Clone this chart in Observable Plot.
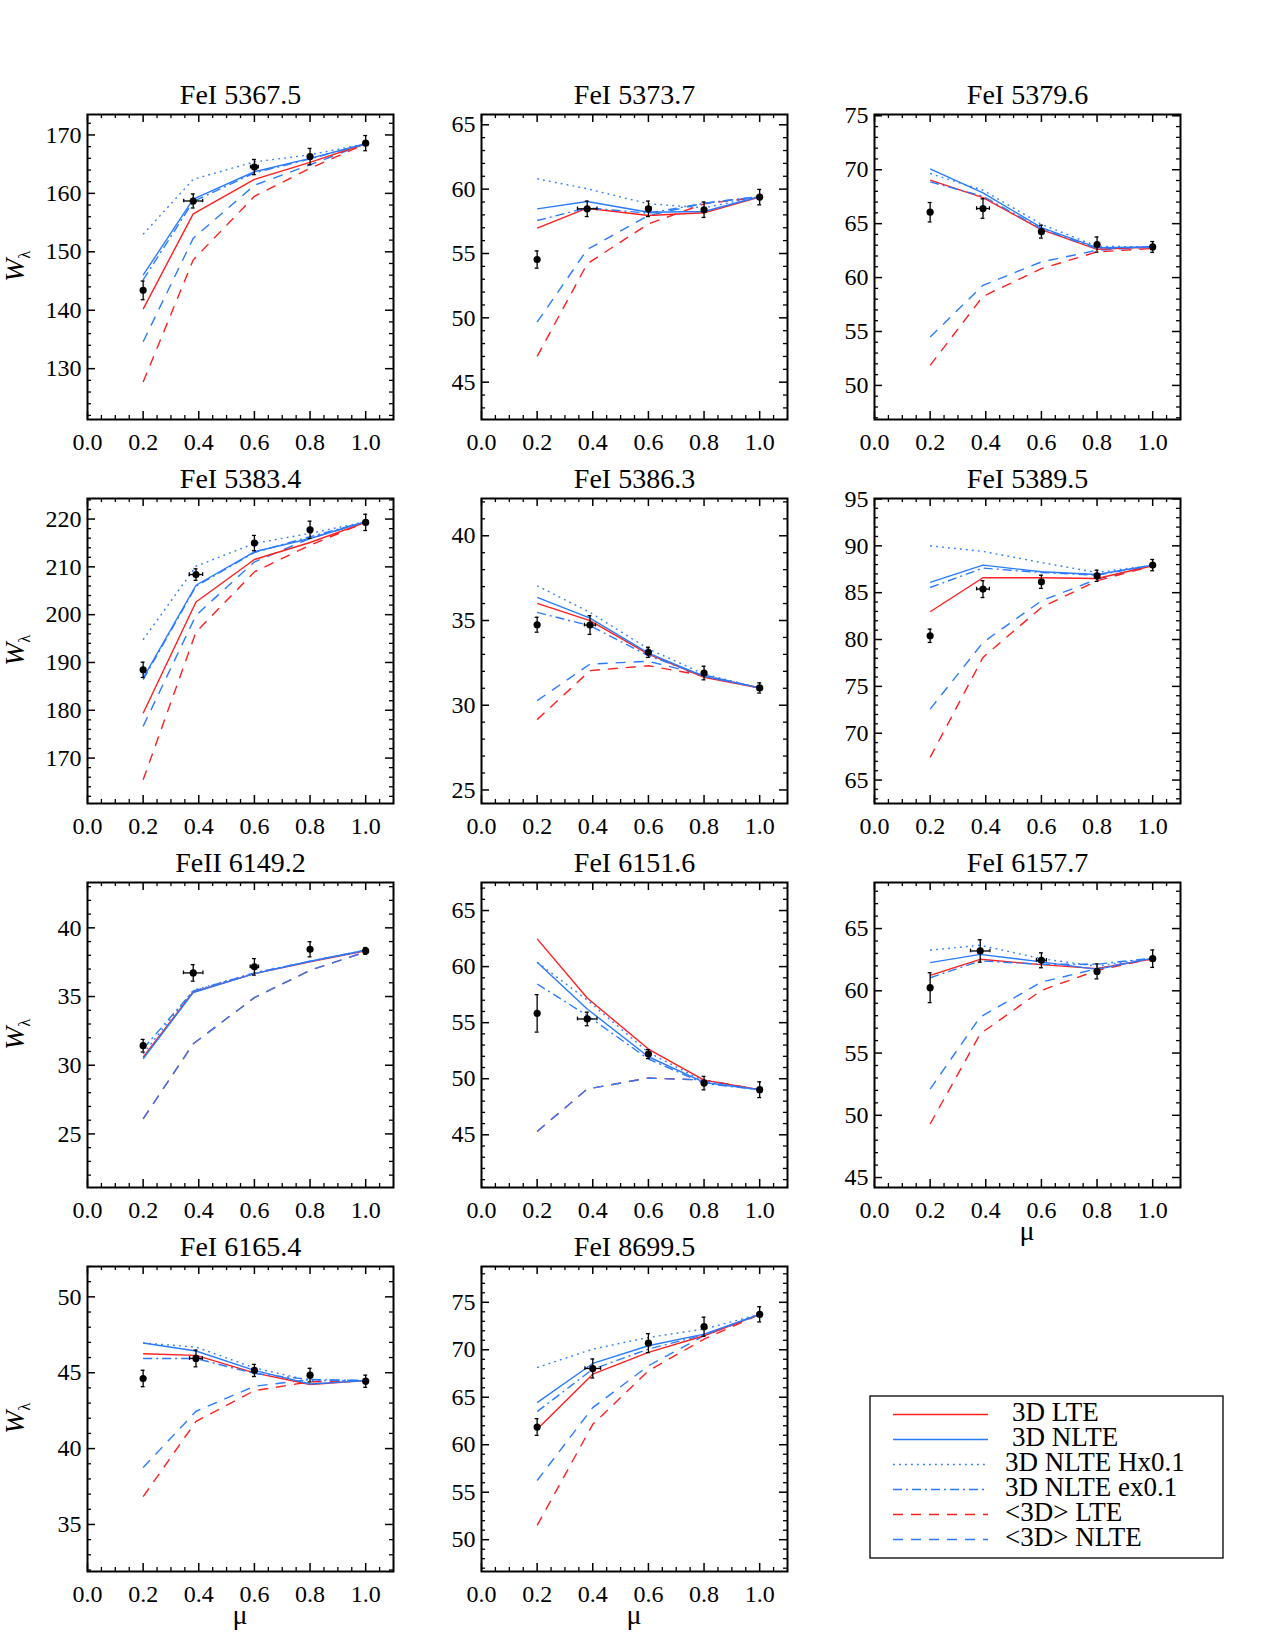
<!DOCTYPE html>
<html><head><meta charset="utf-8">
<script src="https://cdn.jsdelivr.net/npm/d3@7"></script>
<script src="https://cdn.jsdelivr.net/npm/@observablehq/plot@0.6"></script>
<style>
body{margin:0;background:#fff;}
#page{position:relative;width:1275px;height:1650px;background:#fff;font-family:"Liberation Serif",serif;overflow:hidden;}
#page svg{position:absolute;overflow:visible;background:transparent;}
</style></head><body><div id="page"></div>
<script>
// ---------- DATA ----------
const lineNames = ["FeI 5367.5","FeI 5373.7","FeI 5379.6","FeI 5383.4","FeI 5386.3","FeI 5389.5",
                   "FeII 6149.2","FeI 6151.6","FeI 6157.7","FeI 6165.4","FeI 8699.5"];
const muMid = [0.38,0.38,0.39,0.39,0.39,0.39,0.38,0.38,0.38,0.39,0.40];
const muOther = [0.2, 0.6, 0.8, 1.0];

const obsW = [
  [143.4,158.7,164.5,166.3,168.6],
  [54.53,58.47,58.47,58.40,59.38],
  [66.06,66.40,64.26,63.06,62.84],
  [188.46,208.39,214.97,217.76,219.3],
  [34.75,34.73,33.12,31.90,31.02],
  [80.40,85.38,86.16,86.80,87.94],
  [31.42,36.72,37.16,38.44,38.32],
  [55.83,55.33,52.20,49.61,49.02],
  [60.25,63.20,62.45,61.56,62.58],
  [44.62,45.94,45.15,44.84,44.44],
  [61.87,68.03,70.70,72.43,73.73]
];
const obsErr = [
  [1.6,1.2,1.3,1.4,1.3],
  [0.67,0.6,0.6,0.6,0.6],
  [0.9,0.9,0.6,0.7,0.5],
  [1.6,1.2,1.6,1.8,1.7],
  [0.44,0.55,0.3,0.4,0.3],
  [0.71,0.9,0.7,0.6,0.6],
  [0.46,0.6,0.6,0.55,0.25],
  [1.67,0.6,0.4,0.6,0.7],
  [1.2,0.9,0.6,0.6,0.7],
  [0.54,0.55,0.4,0.45,0.4],
  [0.88,1.0,1.0,1.0,0.8]
];
const obsMuErr = [
  [0,0.034,0.014,0,0],
  [0,0.035,0.010,0,0],
  [0,0.023,0,0,0],
  [0,0.024,0,0,0],
  [0,0.020,0,0,0],
  [0,0.023,0,0,0],
  [0,0.035,0.015,0,0],
  [0,0.035,0,0,0],
  [0,0.035,0.018,0,0],
  [0,0.023,0,0,0],
  [0,0.028,0,0,0]
];
const lte3D = [
  [140.2,156.5,162.4,165.3,168.5],
  [56.97,58.52,57.95,58.16,59.38],
  [69.03,67.42,64.45,62.62,62.84],
  [179.37,202.66,211.54,215.1,219.3],
  [36.01,34.99,33.02,31.65,31.02],
  [82.96,86.59,86.59,86.51,87.87],
  [30.59,35.33,36.67,37.52,38.32],
  [62.47,57.20,52.65,49.88,49.02],
  [61.24,62.53,62.10,61.78,62.58],
  [46.25,46.14,44.99,44.22,44.48],
  [61.62,67.43,69.72,71.48,73.73]
];
const nlte3D = [
  [146.0,159.0,163.7,166.0,168.5],
  [58.47,59.04,58.20,58.26,59.43],
  [70.08,67.85,64.63,62.78,62.84],
  [186.71,206.15,213.15,215.94,219.44],
  [36.36,35.14,33.08,31.70,31.02],
  [86.09,87.94,87.23,86.94,87.94],
  [30.47,35.28,36.67,37.57,38.37],
  [60.39,56.22,51.96,49.67,49.02],
  [62.26,62.93,62.32,61.72,62.63],
  [46.96,46.43,45.15,44.26,44.48],
  [64.44,68.56,70.42,71.65,73.73]
];
const nlteHx01 = [
  [153.0,162.4,165.4,166.6,168.5],
  [60.80,60.03,58.86,58.55,59.43],
  [69.65,68.10,64.94,62.90,62.84],
  [194.76,210.14,214.9,217.0,219.44],
  [37.05,35.48,33.32,31.84,31.02],
  [90.00,89.40,88.22,87.15,87.94],
  [30.83,35.45,36.72,37.57,38.37],
  [60.39,57.02,52.35,49.76,49.02],
  [63.26,63.66,62.58,61.97,62.63],
  [46.96,46.69,45.32,44.48,44.48],
  [68.13,70.07,71.30,72.18,73.73]
];
const nlteEx01 = [
  [145.2,158.6,163.5,165.9,168.5],
  [57.56,58.55,58.13,58.90,59.43],
  [68.87,67.54,64.51,62.69,62.84],
  [186.4,205.94,213.0,216.3,219.44],
  [35.48,34.69,32.92,31.74,31.02],
  [85.55,87.62,87.15,86.87,87.94],
  [31.20,35.40,36.72,37.57,38.37],
  [58.45,55.63,51.76,49.58,49.02],
  [61.05,62.40,62.13,62.13,62.63],
  [45.94,45.94,44.95,44.55,44.48],
  [63.49,67.96,70.07,71.58,73.73]
];
const avgLTE = [
  [127.7,148.6,159.5,164.3,168.5],
  [47.00,54.20,57.30,58.86,59.38],
  [51.86,58.26,60.83,62.38,62.70],
  [165.45,196.36,208.95,214.55,219.3],
  [29.15,32.04,32.33,31.74,31.02],
  [67.42,78.09,83.42,86.27,87.87],
  [26.09,31.56,34.92,36.91,38.25],
  [45.30,49.08,50.06,49.88,49.02],
  [49.30,56.54,60.03,61.64,62.58],
  [36.83,41.79,43.82,44.40,44.44],
  [51.51,62.15,67.78,71.13,73.73]
];
const avgNLTE = [
  [134.6,152.3,161.4,164.9,168.5],
  [49.66,55.31,57.95,58.90,59.43],
  [54.49,59.28,61.45,62.53,62.84],
  [176.64,199.86,211.05,215.94,219.44],
  [30.27,32.43,32.59,31.78,31.02],
  [72.57,79.69,84.13,86.44,87.94],
  [26.09,31.56,34.92,36.91,38.25],
  [45.30,49.08,50.06,49.88,49.02],
  [52.11,57.89,60.70,61.78,62.63],
  [38.75,42.46,44.11,44.55,44.48],
  [56.23,63.91,68.31,71.48,73.73]
];
const yDomains = [[121.3,173.5],[42.1,65.8],[46.84,75.12],[160.5,224.3],[24.2,42.2],[62.5,95.05],
                  [21.1,43.3],[40.3,67.5],[44.2,68.7],[31.9,52.0],[46.65,78.77]];
const yMajorStep = [10,5,5,10,5,5,5,5,5,5,5];
const yMinorStep = [2,1,1,2,1,1,1,1,1,1,1];
const xMajorTicks = [0,0.2,0.4,0.6,0.8,1.0];

const seriesLabels = ["3D LTE","3D NLTE","3D NLTE Hx0.1","3D NLTE ex0.1","<3D> LTE","<3D> NLTE"];
const seriesValues = [lte3D, nlte3D, nlteHx01, nlteEx01, avgLTE, avgNLTE];

// ---------- STYLE ----------
const RED = "#ff1f1f", BLUE = "#2a7cff";
const seriesColors = [RED, BLUE, BLUE, BLUE, RED, BLUE];
const seriesDash = [null, null, "1.8,4.2", "9,4,2,4", "10,8", "10,8"];
const drawOrder = [4,5,0,3,2,1];
const colLeft = [87, 481, 874], rowTop = [114, 498, 882, 1266];
const FW = 306, FH = 305, ML = 80, MR = 14, MT = 50, MB = 80;
const FONT = "'Liberation Serif', 'Times New Roman', serif";

const page = document.getElementById("page");

function panel(i) {
  const mu = [muOther[0], muMid[i], ...muOther.slice(1)];
  const rows = mu.map((m, j) => ({mu: m, w: obsW[i][j], e: obsErr[i][j], xe: obsMuErr[i][j]}));
  const [y0, y1] = yDomains[i];
  const step = yMajorStep[i], mstep = yMinorStep[i];
  const majorY = d3.range(Math.ceil(y0 / step) * step, y1 + 1e-9, step);
  const minorY = d3.range(Math.ceil(y0 / mstep) * mstep, y1 + 1e-9, mstep)
    .filter(v => Math.abs(v / step - Math.round(v / step)) > 1e-6);
  const minorX = d3.range(1, 22).map(k => k * 0.05).filter(v => Math.abs(v / 0.2 - Math.round(v / 0.2)) > 1e-6 && v < 1.1);
  const capY = (y1 - y0) * 0.006;

  const marks = [
    Plot.axisX(xMajorTicks, {anchor: "bottom", label: null, tickSize: 0, tickPadding: 13, tickFormat: d3.format(".1f"), fontSize: 24}),
    Plot.axisY(majorY, {anchor: "left", label: null, tickSize: 0, tickPadding: 6, tickFormat: d3.format("d"), fontSize: 24}),
    Plot.tickX(xMajorTicks, {x: d => d, insetTop: FH - 8, strokeWidth: 1.5}),
    Plot.tickX(xMajorTicks, {x: d => d, insetBottom: FH - 8, strokeWidth: 1.5}),
    Plot.tickX(minorX, {x: d => d, insetTop: FH - 4, strokeWidth: 1.3}),
    Plot.tickX(minorX, {x: d => d, insetBottom: FH - 4, strokeWidth: 1.3}),
    Plot.tickY(majorY, {y: d => d, insetRight: FW - 8, strokeWidth: 1.5}),
    Plot.tickY(majorY, {y: d => d, insetLeft: FW - 8, strokeWidth: 1.5}),
    Plot.tickY(minorY, {y: d => d, insetRight: FW - 4, strokeWidth: 1.3}),
    Plot.tickY(minorY, {y: d => d, insetLeft: FW - 4, strokeWidth: 1.3})
  ];
  for (const s of drawOrder) {
    const data = mu.map((m, j) => ({mu: m, w: seriesValues[s][i][j]}));
    marks.push(Plot.line(data, {x: "mu", y: "w", stroke: seriesColors[s], strokeWidth: 1.4,
      strokeDasharray: seriesDash[s] || undefined, strokeLinecap: "butt"}));
  }
  const xr = rows.filter(d => d.xe > 0);
  marks.push(
    Plot.ruleX(rows, {x: "mu", y1: d => d.w - d.e, y2: d => d.w + d.e, stroke: "black", strokeWidth: 1.3}),
    Plot.ruleY(rows, {y: d => d.w + d.e, x1: d => d.mu - 0.007, x2: d => d.mu + 0.007, stroke: "black", strokeWidth: 1.3}),
    Plot.ruleY(rows, {y: d => d.w - d.e, x1: d => d.mu - 0.007, x2: d => d.mu + 0.007, stroke: "black", strokeWidth: 1.3}),
    Plot.ruleY(xr, {y: "w", x1: d => d.mu - d.xe, x2: d => d.mu + d.xe, stroke: "black", strokeWidth: 1.3}),
    Plot.ruleX(xr, {x: d => d.mu - d.xe, y1: d => d.w - capY, y2: d => d.w + capY, stroke: "black", strokeWidth: 1.3}),
    Plot.ruleX(xr, {x: d => d.mu + d.xe, y1: d => d.w - capY, y2: d => d.w + capY, stroke: "black", strokeWidth: 1.3}),
    Plot.dot(rows, {x: "mu", y: "w", r: 3.6, fill: "black", stroke: "none"}),
    Plot.frame({stroke: "black", strokeWidth: 2}),
    Plot.text([lineNames[i]], {text: d => d, frameAnchor: "top", dy: -11, lineAnchor: "bottom", fontSize: 28, fill: "black"})
  );

  const svg = Plot.plot({
    width: ML + FW + MR, height: MT + FH + MB,
    marginLeft: ML, marginRight: MR, marginTop: MT, marginBottom: MB,
    x: {domain: [0, 1.1], label: null},
    y: {domain: [y0, y1], label: null},
    style: {fontFamily: FONT, fontSize: "24px", color: "black", background: "transparent", overflow: "visible"},
    marks
  });
  const col = i % 3, row = Math.floor(i / 3);
  svg.style.left = (colLeft[col] - ML) + "px";
  svg.style.top = (rowTop[row] - MT) + "px";
  const sel = d3.select(svg);
  if (col === 0) {
    const t = sel.append("text")
      .attr("transform", `translate(${ML - 63},${MT + FH / 2}) rotate(-90)`)
      .attr("text-anchor", "middle")
      .attr("font-family", FONT).attr("fill", "black");
    t.append("tspan").attr("font-style", "italic").attr("font-size", 28).text("W");
    t.append("tspan").attr("font-size", 16).attr("dy", 6).text("λ");
  }
  if (i >= 8) {
    sel.append("text")
      .attr("x", ML + FW / 2).attr("y", MT + FH + 53)
      .attr("text-anchor", "middle").attr("font-family", FONT).attr("font-size", 28)
      .attr("fill", "black").text("μ");
  }
  page.appendChild(svg);
}

for (let i = 0; i < lineNames.length; i++) panel(i);

// ---------- LEGEND ----------
const lg = d3.select(page).append("svg")
  .attr("width", 355).attr("height", 164)
  .style("left", "869px").style("top", "1395px");
lg.append("rect").attr("x", 1).attr("y", 1).attr("width", 353).attr("height", 162)
  .attr("fill", "white").attr("stroke", "black").attr("stroke-width", 1.3);
seriesLabels.forEach((lab, k) => {
  const yy = 19.5 + k * 25;
  lg.append("line").attr("x1", 24).attr("x2", 119).attr("y1", yy).attr("y2", yy)
    .attr("stroke", seriesColors[k]).attr("stroke-width", 1.4)
    .attr("stroke-dasharray", seriesDash[k]);
  lg.append("text").attr("x", k < 2 ? 143 : 136).attr("y", yy + 6.5)
    .attr("font-family", FONT).attr("font-size", 27).attr("fill", "black").text(lab);
});
</script>
</body></html>
